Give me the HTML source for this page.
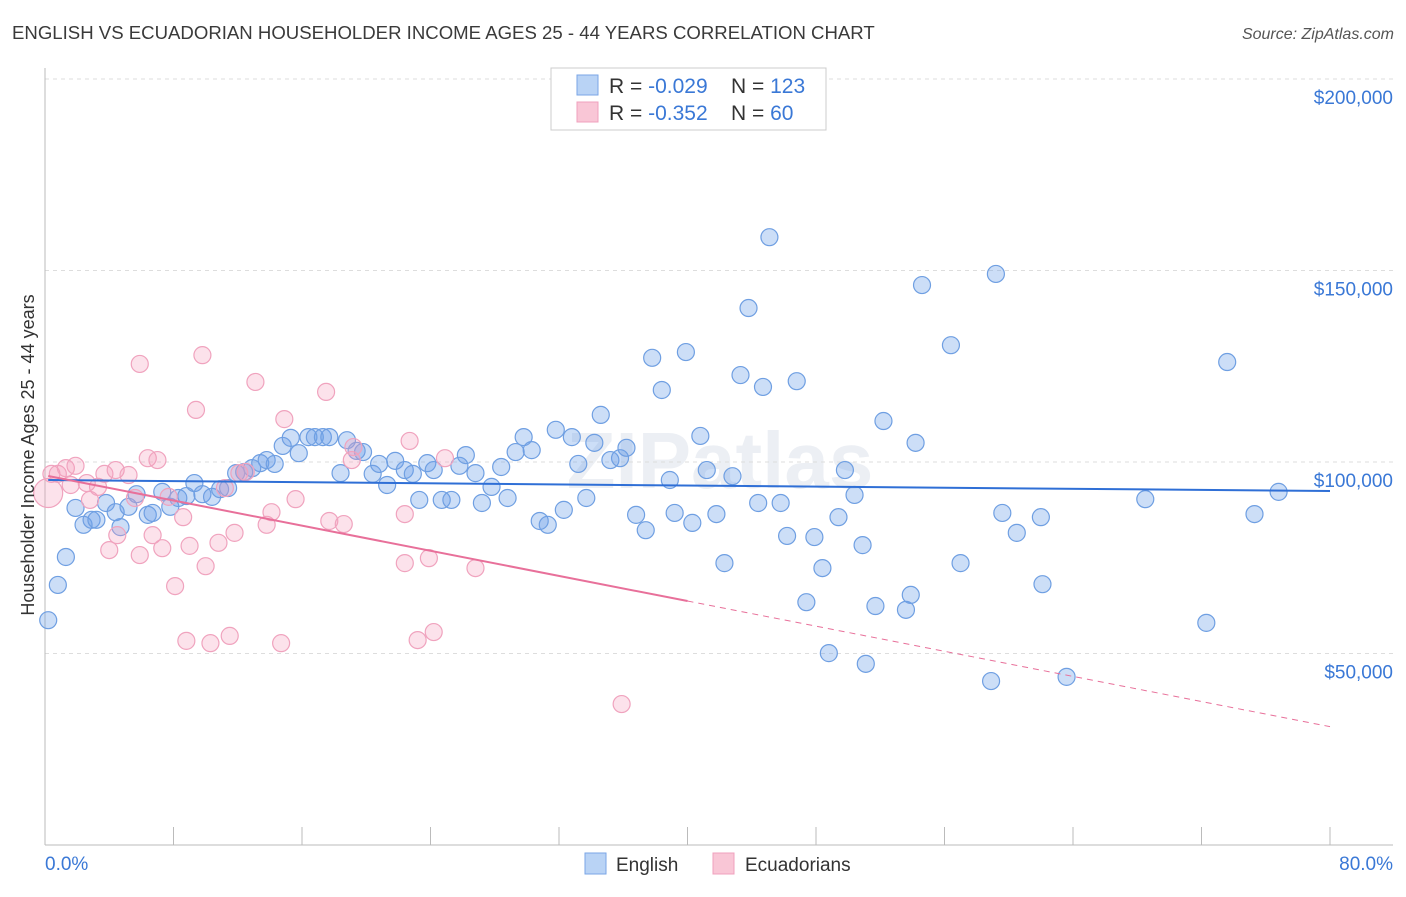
<!DOCTYPE html>
<html><head><meta charset="utf-8"><style>
body{margin:0;background:#fff;font-family:"Liberation Sans",sans-serif;}
svg text{font-family:"Liberation Sans",sans-serif;}
</style></head><body>
<svg id="c" width="1406" height="892" xmlns="http://www.w3.org/2000/svg">
<text x="12" y="39" font-size="18.6" fill="#3a3a3a">ENGLISH VS ECUADORIAN HOUSEHOLDER INCOME AGES 25 - 44 YEARS CORRELATION CHART</text>
<text x="1394" y="39" font-size="16" fill="#555" font-style="italic" text-anchor="end">Source: ZipAtlas.com</text>
<text x="720" y="488" font-size="80" fill="#eceff4" text-anchor="middle" font-weight="bold">ZIPatlas</text>
<g id="grid"></g>
<g id="axes"></g>
<g id="pts"></g>
<g id="lines"></g>
<text transform="translate(34,455) rotate(-90)" font-size="18" fill="#333" text-anchor="middle">Householder Income Ages 25 - 44 years</text>
<text x="45" y="870" font-size="19" fill="#3a78d6">0.0%</text>
<text x="1393" y="870" font-size="19" fill="#3a78d6" text-anchor="end">80.0%</text>
<g>
<rect x="551" y="68" width="275" height="62" fill="#fff" stroke="#ccc"/>
<rect x="577" y="75" width="21" height="20" fill="#b9d3f5" stroke="#7aa6e6"/>
<rect x="577" y="102" width="21" height="20" fill="#f9c6d6" stroke="#f0a0bd"/>
<text x="609" y="93" font-size="21" fill="#333">R = <tspan fill="#3a78d6">-0.029</tspan></text>
<text x="731" y="93" font-size="21" fill="#333">N = <tspan fill="#3a78d6">123</tspan></text>
<text x="609" y="120" font-size="21" fill="#333">R = <tspan fill="#3a78d6"> -0.352</tspan></text>
<text x="731" y="120" font-size="21" fill="#333">N = <tspan fill="#3a78d6"> 60</tspan></text>
</g>
<g>
<rect x="585" y="853" width="21" height="21" fill="#b9d3f5" stroke="#7aa6e6"/>
<text x="616" y="871" font-size="19" fill="#333">English</text>
<rect x="713" y="853" width="21" height="21" fill="#f9c6d6" stroke="#f0a0bd"/>
<text x="745" y="871" font-size="19" fill="#333">Ecuadorians</text>
</g>
</svg>
<script>
const yTicks=[50000,100000,150000,200000];
const yTickLabels=["$50,000","$100,000","$150,000","$200,000"];
const englishX=[0.2,0.8,1.3,1.9,2.4,2.9,3.2,3.8,4.4,4.7,5.2,5.7,6.4,6.7,7.3,7.8,8.3,8.8,9.3,9.8,10.4,10.9,11.4,11.9,12.4,12.9,13.4,13.8,14.3,14.8,15.3,15.8,16.4,16.8,17.3,17.7,18.4,18.8,19.4,19.8,20.4,20.8,21.3,21.8,22.4,22.9,23.3,23.8,24.2,24.7,25.3,25.8,26.2,26.8,27.2,27.8,28.4,28.8,29.3,29.8,30.3,30.8,31.3,31.8,32.3,32.8,33.2,33.7,34.2,34.6,35.2,35.8,36.2,36.8,37.4,37.8,38.4,38.9,39.2,39.9,40.3,40.8,41.2,41.8,42.3,42.8,43.3,43.8,44.4,44.7,45.1,45.8,46.2,46.8,47.4,47.9,48.4,48.8,49.4,49.8,50.4,50.9,51.1,51.7,52.2,53.6,53.9,54.2,54.6,56.4,57.0,58.9,59.2,59.6,60.5,62.0,62.1,63.6,68.5,72.3,73.6,75.3,76.8];
const englishY=[58.7,67.9,75.2,88.0,83.6,84.9,84.9,89.3,86.9,83.0,88.3,91.6,86.2,86.7,92.2,88.3,90.6,91.1,94.5,91.6,90.9,92.9,93.2,97.1,97.4,98.4,99.7,100.5,99.5,104.2,106.3,102.3,106.5,106.5,106.5,106.5,97.1,105.7,102.9,102.6,96.9,99.5,94.0,100.3,97.9,96.9,90.1,99.7,97.9,90.1,90.1,99.0,101.8,97.1,89.3,93.5,98.7,90.6,102.6,106.5,103.1,84.6,83.6,108.4,87.5,106.5,99.5,90.6,105.0,112.3,100.5,101.0,103.7,86.2,82.2,127.2,118.8,95.3,86.7,128.7,84.1,106.8,97.9,86.4,73.6,96.3,122.7,140.2,89.3,119.6,158.7,89.3,80.7,121.1,63.4,80.4,72.3,50.1,85.6,97.9,91.4,78.3,47.3,62.4,110.7,61.4,65.3,105.0,146.2,130.5,73.6,42.8,149.1,86.7,81.5,85.6,68.1,43.9,90.3,58.0,126.1,86.4,92.2];
const ecuX=[0.2,0.4,0.8,1.3,1.6,1.9,2.6,2.8,3.3,3.7,4.0,4.4,4.5,5.2,5.6,5.9,5.9,6.4,6.7,7.0,7.3,7.7,8.1,8.6,8.8,9.0,9.4,9.8,10.0,10.3,10.8,11.2,11.5,11.8,12.1,12.5,13.1,13.8,14.1,14.7,14.9,15.6,17.5,17.7,18.6,19.1,19.2,22.4,22.4,22.7,23.2,23.9,24.2,24.9,26.8,35.9];
const ecuY=[91.9,96.9,96.9,98.4,94.0,99.0,94.5,90.1,93.5,96.9,77.0,97.9,80.9,96.6,90.6,125.6,75.7,101.0,80.9,100.5,77.5,90.9,67.6,85.6,53.3,78.1,113.6,127.9,72.8,52.7,78.9,93.2,54.6,81.5,97.1,97.4,120.9,83.6,86.9,52.7,111.2,90.3,118.3,84.6,83.8,100.5,103.9,86.4,73.6,105.5,53.5,74.9,55.6,101.0,72.3,36.8];
const englishTrend=[95.3,-0.036];
const ecuTrend=[96.5,-0.82];
const NS="http://www.w3.org/2000/svg";
const X0=45,X1=1330,Y0=845,PX50=191.5;
const xs=p=>X0+(X1-X0)*p/80;
const ys=v=>Y0-v/50000*PX50;
function mk(tag,attrs,parent){const e=document.createElementNS(NS,tag);for(const k in attrs)e.setAttribute(k,attrs[k]);parent.appendChild(e);return e;}
const grid=document.getElementById('grid'),axes=document.getElementById('axes'),pts=document.getElementById('pts'),lines=document.getElementById('lines');
yTicks.forEach((t,i)=>{
  const l=mk('line',{x1:X0,x2:1393,y1:ys(t),y2:ys(t),stroke:'#ddd','stroke-dasharray':'4,4'},grid);
  
  
  const tx=mk('text',{x:1393,y:ys(t)+25,'font-size':19,fill:'#3a78d6','text-anchor':'end'},grid);
  tx.textContent=yTickLabels[i];
  
  
});
const ya=mk('line',{x1:X0,x2:X0,y1:68,y2:Y0,stroke:'#bbb'},axes);


const xa=mk('line',{x1:X0,x2:1393,y1:Y0,y2:Y0,stroke:'#bbb'},axes);


for(let i=0;i<=10;i++){const t=mk('line',{x1:xs(i*8),x2:xs(i*8),y1:Y0,y2:Y0-18,stroke:'#bbb'},axes);
  
  }
englishX.forEach((x,i)=>{
  const c=mk('circle',{cx:xs(x),cy:ys(englishY[i]*1000),r:8.5,fill:'rgba(110,160,232,0.35)',stroke:'#6f9fe2','stroke-width':1.2},pts);
  
  
});
ecuX.forEach((x,i)=>{
  const c=mk('circle',{cx:xs(x),cy:ys(ecuY[i]*1000),r:i===0?14.5:8.5,fill:'rgba(244,160,190,0.3)',stroke:'#f0a3be','stroke-width':1.2},pts);
  
  
});
const tr=(t,x)=>(t[0]+t[1]*x)*1000;
const bl=mk('line',{x1:xs(0.2),y1:ys(tr(englishTrend,0.2)),x2:xs(80),y2:ys(tr(englishTrend,80)),stroke:'#2f6fd6','stroke-width':2},lines);


const pl=mk('line',{x1:xs(0.2),y1:ys(tr(ecuTrend,0.2)),x2:xs(40),y2:ys(tr(ecuTrend,40)),stroke:'#e8709a','stroke-width':2},lines);


const pd=mk('line',{x1:xs(40),y1:ys(tr(ecuTrend,40)),x2:xs(80),y2:ys(tr(ecuTrend,80)),stroke:'#e8709a','stroke-width':1,'stroke-dasharray':'6,5'},lines);


</script>
</body></html>
